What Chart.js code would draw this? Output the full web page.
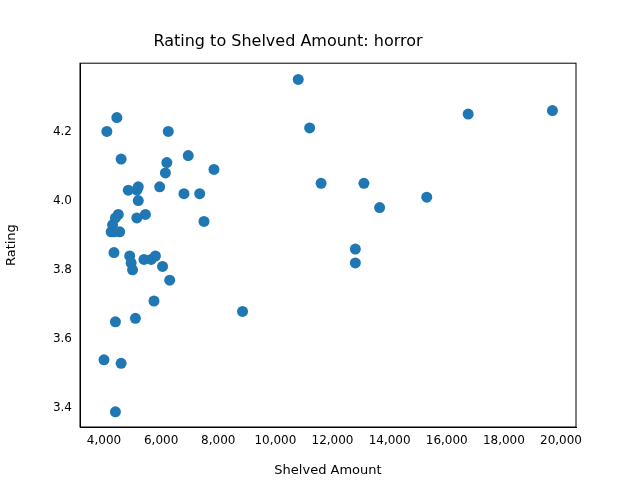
<!DOCTYPE html>
<html><head><meta charset="utf-8">
<script src="https://cdn.jsdelivr.net/npm/chart.js@4"></script>
<style>body{margin:0;background:#fff}#wrap{width:640px;height:480px}</style>
</head><body><div id="wrap"><canvas id="c" width="640" height="480"></canvas></div>
<script>
const shelved = [4000,4100,4300,4250,4350,4400,4500,4550,4350,4400,4450,4400,4600,4600,4850,4900,4950,5000,5100,5150,5200,5200,5150,5450,5400,5650,5800,5750,5950,6050,6150,6200,6250,6300,6800,6950,7350,7500,7850,8850,10800,11200,11600,12800,12800,13100,13650,15300,16750,19700];
const rating = [3.54,4.20,3.93,3.91,3.91,3.95,3.96,3.91,3.85,3.65,4.24,3.39,3.53,4.12,4.03,3.84,3.82,3.80,3.66,4.03,4.04,4.00,3.95,3.96,3.83,3.83,3.84,3.71,4.04,3.81,4.08,4.11,4.20,3.77,4.02,4.13,4.02,3.94,4.09,3.68,4.35,4.21,4.05,3.86,3.82,4.05,3.98,4.01,4.25,4.26];
const xTicks = [4000,6000,8000,10000,12000,14000,16000,18000,20000];
const yTicks = [3.4,3.6,3.8,4.0,4.2];

Chart.defaults.font.family = 'DejaVu Sans';
Chart.defaults.color = '#000';
new Chart(document.getElementById('c'), {
  type: 'scatter',
  data: { datasets: [{ data: shelved.map((x, i) => ({x: x, y: rating[i]})), backgroundColor: '#1f77b4', borderWidth: 0, pointRadius: 5.5 }] },
  options: {
    responsive: false, animation: false,
    layout: { padding: { top: 0, right: 64, left: 0, bottom: 0 } },
    plugins: {
      legend: { display: false }, tooltip: { enabled: false },
      title: { display: true, text: 'Rating to Shelved Amount: horror', font: { size: 16, weight: 'normal' }, padding: { top: 32, bottom: 12 } }
    },
    scales: {
      x: {
        min: 3160, max: 20525,
        afterBuildTicks: a => { a.ticks = xTicks.map(v => ({value: v})); },
        afterFit: a => { a.height = 53; },
        grid: { display: false, drawTicks: true, tickLength: 5, tickColor: '#000' },
        border: { color: '#000' },
        ticks: { font: { size: 12 }, padding: 2, maxRotation: 0 },
        title: { display: true, text: 'Shelved Amount', font: { size: 13 }, padding: 2 }
      },
      y: {
        min: 3.346, max: 4.397,
        afterBuildTicks: a => { a.ticks = yTicks.map(v => ({value: v})); },
        afterFit: a => { a.width = 80; },
        grid: { display: false, drawTicks: true, tickLength: 5, tickColor: '#000' },
        border: { color: '#000' },
        ticks: { font: { size: 12 }, padding: 3, callback: v => v.toFixed(1) },
        title: { display: true, text: 'Rating', font: { size: 13 }, padding: 4 }
      }
    }
  },
  plugins: [{ id: 'box', afterDraw(ch) { const a = ch.chartArea, c = ch.ctx; c.save(); c.strokeStyle = '#000'; c.lineWidth = 1; c.strokeRect(a.left, a.top, a.right - a.left, a.bottom - a.top); c.restore(); } }]
});
</script></body></html>
